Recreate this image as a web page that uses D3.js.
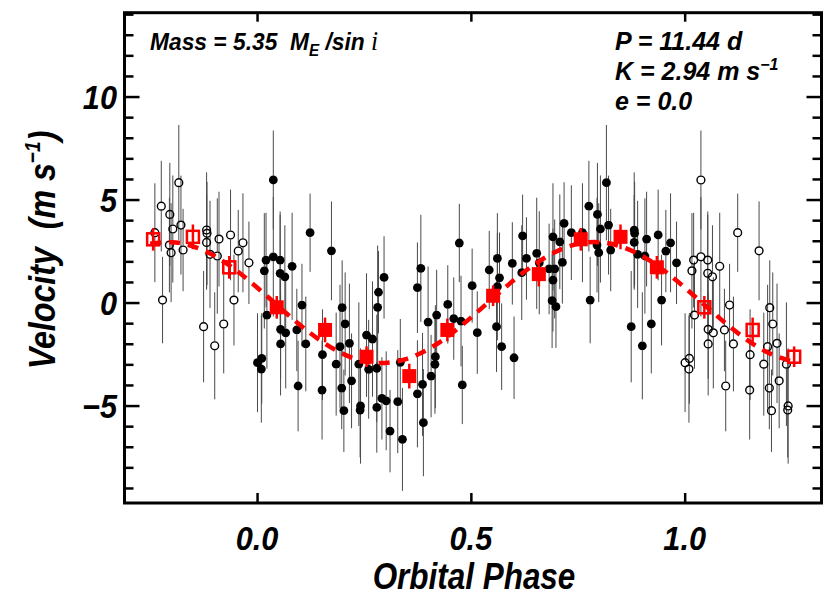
<!DOCTYPE html>
<html>
<head>
<meta charset="utf-8">
<script src="https://cdn.jsdelivr.net/npm/d3@7"></script>
<style>
  body { margin: 0; background: #fff; }
  svg text { font-family: "Liberation Sans", Arial, Helvetica, sans-serif; font-weight: bold; font-style: italic; fill: #000; }
</style>
</head>
<body>
<svg id="chart" width="830" height="600"></svg>
<script>
// radial velocity points, phase 0..1 (filled); copies outside 0..1 drawn open
const phase = [0.001, 0.010, 0.011, 0.017, 0.021, 0.023, 0.038, 0.038, 0.054, 0.054,
  0.055, 0.055, 0.065, 0.067, 0.082, 0.093, 0.096, 0.105, 0.114, 0.124,
  0.152, 0.153, 0.174, 0.185, 0.194, 0.198, 0.199, 0.203, 0.206, 0.216,
  0.221, 0.238, 0.241, 0.242, 0.256, 0.261, 0.270, 0.280, 0.280, 0.282,
  0.284, 0.292, 0.297, 0.302, 0.311, 0.329, 0.335, 0.340, 0.375, 0.375,
  0.383, 0.387, 0.389, 0.400, 0.407, 0.416, 0.417, 0.420, 0.446, 0.460,
  0.473, 0.477, 0.480, 0.503, 0.515, 0.543, 0.560, 0.562, 0.562, 0.567,
  0.572, 0.597, 0.601, 0.619, 0.621, 0.630, 0.654, 0.660, 0.683, 0.690,
  0.692, 0.692, 0.696, 0.699, 0.708, 0.714, 0.718, 0.735, 0.761, 0.776,
  0.779, 0.795, 0.796, 0.799, 0.803, 0.817, 0.822, 0.827, 0.875, 0.882,
  0.882, 0.883, 0.890, 0.901, 0.907, 0.911, 0.922, 0.938, 0.946, 0.956,
  0.967, 0.981];
const velocity = [-2.92, -3.23, -2.71, 1.54, 2.06, -0.61, 5.95, 2.22, 2.06, 1.42,
  -1.30, -2.01, 1.25, -1.47, 1.76, -1.33, -4.05, -0.12, -2.01, 3.39,
  -4.25, -2.53, 2.51, -2.99, -2.14, -4.15, -0.25, -5.25, -1.04, -1.98,
  -3.80, -2.99, -5.22, -5.02, -1.58, -3.24, -1.77, -3.19, -5.09, -0.23,
  0.50, -4.65, 1.22, -4.77, -6.24, -4.81, -2.90, -6.64, -4.43, 0.72,
  1.66, -3.97, -5.83, -0.95, -3.57, -3.00, -2.63, -0.61, -0.09, -0.78,
  2.89, -0.90, -4.00, 0.82, -1.46, 1.58, -1.17, 2.14, 0.77, 1.20,
  -2.14, 1.90, -2.68, 1.45, 3.24, 2.14, 2.39, 1.93, 1.63, 0.09,
  3.19, 1.09, 1.63, -0.20, 2.95, 1.95, 3.84, 3.39, 3.39, 4.68,
  0.12, 2.79, 4.28, 2.42, 3.57, 5.82, 3.76, 2.55, -1.17, 3.52,
  2.92, 3.36, 2.34, -2.10, 2.26, 3.08, -1.04, 3.28, 0.12, 2.50,
  2.90, 1.93];
const velErr = [2.4, 2.6, 2.2, 2.8, 2.3, 2.6, 2.4, 2.9, 2.2, 3.0,
  2.4, 2.5, 2.5, 2.7, 2.6, 2.0, 2.2, 2.0, 2.3, 1.9,
  2.4, 2.2, 2.4, 2.5, 3.0, 2.0, 2.3, 2.0, 2.5, 2.9,
  2.3, 3.0, 2.3, 2.8, 3.0, 2.4, 2.8, 2.6, 2.2, 3.0,
  2.0, 2.0, 2.0, 2.4, 2.0, 2.5, 2.1, 2.5, 2.6, 2.2,
  2.6, 2.5, 2.6, 2.7, 2.0, 2.4, 2.5, 2.2, 1.9, 2.0,
  1.9, 2.2, 1.9, 1.8, 2.0, 1.9, 2.2, 2.2, 2.6, 2.2,
  2.1, 2.0, 2.0, 2.3, 2.0, 2.0, 2.7, 2.5, 2.2, 2.3,
  2.6, 2.5, 2.4, 2.0, 2.3, 2.0, 2.0, 2.3, 2.4, 2.2,
  2.1, 2.3, 2.5, 2.4, 2.6, 2.8, 2.4, 2.0, 2.7, 2.8,
  2.3, 2.5, 2.6, 2.6, 2.8, 2.3, 2.4, 2.2, 2.2, 2.0,
  2.4, 2.0];

// binned means (red squares)
const binPhase = [0.046, 0.159, 0.256, 0.356, 0.445, 0.552, 0.659, 0.757, 0.850, 0.935];
const binVel = [-0.23, -1.33, -2.63, -3.57, -1.33, 0.33, 1.38, 3.07, 3.19, 1.71];
const binErr = [0.55, 0.6, 0.5, 0.6, 0.55, 0.5, 0.6, 0.55, 0.6, 0.55];

// circular orbit fit (red dashed)
const modelPhase = [-0.25, -0.20, -0.15, -0.10, -0.05, 0.00, 0.05, 0.10, 0.15, 0.20,
  0.25, 0.30, 0.35, 0.40, 0.45, 0.50, 0.55, 0.60, 0.65, 0.70,
  0.75, 0.80, 0.85, 0.90, 0.95, 1.00, 1.05, 1.10, 1.15, 1.20, 1.25];
const modelVel = [2.85, 2.93, 2.73, 2.27, 1.58, 0.73, -0.18, -1.08, -1.87, -2.48,
  -2.85, -2.93, -2.73, -2.27, -1.58, -0.73, 0.18, 1.08, 1.87, 2.48,
  2.85, 2.93, 2.73, 2.27, 1.58, 0.73, -0.18, -1.08, -1.87, -2.48, -2.85];

const xTicks = [0, 0.5, 1.0];
const xTickLabels = ['0.0', '0.5', '1.0'];
const yTicks = [-5, 0, 5, 10];
const yTickLabels = ['\u22125', '0', '5', '10'];
const yMinor = d3.range(-9, 15).filter(v => !yTicks.includes(v));

const svg = d3.select('#chart');
const padL = 124.5, padR = 821.5, padT = 12.7, padB = 503;

const x = d3.scaleLinear().domain([-0.31, 1.32]).range([padL, padR]);
const y = d3.scaleLinear().domain([-9.73, 14.07]).range([padB, padT]);

// fold data so phases -0.25..1.25 are shown
const pts = phase.map((p, i) => ({ p, v: velocity[i], e: velErr[i], open: false }));
const copies = [];
pts.forEach(d => {
  [-1, 1].forEach(s => {
    const q = d.p + s;
    if (q >= -0.25 && q <= 1.25) copies.push({ ...d, p: q, open: true });
  });
});
const allPts = pts.concat(copies);

const bins = binPhase.map((p, i) => ({ p, v: binVel[i], e: binErr[i], open: false }));
const binCopies = [];
bins.forEach(d => {
  [-1, 1].forEach(s => {
    const q = d.p + s;
    if (q >= -0.25 && q <= 1.26) binCopies.push({ ...d, p: q, open: true });
  });
});
const allBins = bins.concat(binCopies);

const r = 4.4;

// error bars, drawn from circle edge outward
const eg = svg.append('g').attr('stroke', '#4a4a4a').attr('stroke-width', 1);
allPts.forEach(d => {
  const cx = x(d.p), cy = y(d.v);
  eg.append('line').attr('x1', cx).attr('x2', cx).attr('y1', cy - r).attr('y2', y(d.v + d.e));
  eg.append('line').attr('x1', cx).attr('x2', cx).attr('y1', cy + r).attr('y2', y(d.v - d.e));
});

svg.append('g').selectAll('circle')
  .data(allPts)
  .enter()
  .append('circle')
  .attr('cx', d => x(d.p))
  .attr('cy', d => y(d.v))
  .attr('r', d => d.open ? r - 0.5 : r)
  .attr('fill', d => d.open ? 'none' : '#000')
  .attr('stroke', '#000')
  .attr('stroke-width', d => d.open ? 1.4 : 0);

// model curve
const line = d3.line()
  .x((d, i) => x(modelPhase[i]))
  .y(d => y(d))
  .curve(d3.curveNatural);

svg.append('path')
  .attr('d', line(modelVel))
  .attr('fill', 'none')
  .attr('stroke', '#ff0000')
  .attr('stroke-width', 4.5)
  .attr('stroke-dasharray', '11,8');

// binned points
const bg = svg.append('g');
bg.selectAll('line')
  .data(allBins)
  .enter()
  .append('line')
  .attr('x1', d => x(d.p)).attr('x2', d => x(d.p))
  .attr('y1', d => y(d.v + d.e)).attr('y2', d => y(d.v - d.e))
  .attr('stroke', '#ff0000')
  .attr('stroke-width', 2.5);

const sq = 14;
bg.selectAll('rect')
  .data(allBins)
  .enter()
  .append('rect')
  .attr('x', d => x(d.p) - (d.open ? sq - 2 : sq) / 2)
  .attr('y', d => y(d.v) - (d.open ? sq - 2 : sq) / 2)
  .attr('width', d => d.open ? sq - 2 : sq)
  .attr('height', d => d.open ? sq - 2 : sq)
  .attr('fill', d => d.open ? 'none' : '#ff0000')
  .attr('stroke', '#ff0000')
  .attr('stroke-width', d => d.open ? 2.5 : 0);

// axes: inward ticks on all four sides
function styleTicks(g, w) {
  g.select('.domain').remove();
  g.selectAll('line').attr('stroke', '#000').attr('stroke-width', w);
}

svg.append('g').attr('transform', `translate(0,${padB})`)
  .call(d3.axisBottom(x).tickValues(xTicks).tickSize(-10).tickFormat(''))
  .call(g => styleTicks(g, 2.5));
svg.append('g').attr('transform', `translate(0,${padT})`)
  .call(d3.axisTop(x).tickValues(xTicks).tickSize(-9).tickFormat(''))
  .call(g => styleTicks(g, 2.5));

svg.append('g').attr('transform', `translate(${padL},0)`)
  .call(d3.axisLeft(y).tickValues(yTicks).tickSize(-15).tickFormat(''))
  .call(g => styleTicks(g, 2.5));
svg.append('g').attr('transform', `translate(${padL},0)`)
  .call(d3.axisLeft(y).tickValues(yMinor).tickSize(-9).tickFormat(''))
  .call(g => styleTicks(g, 2.5));
svg.append('g').attr('transform', `translate(${padR},0)`)
  .call(d3.axisRight(y).tickValues(yTicks).tickSize(-15).tickFormat(''))
  .call(g => styleTicks(g, 2.5));
svg.append('g').attr('transform', `translate(${padR},0)`)
  .call(d3.axisRight(y).tickValues(yMinor).tickSize(-9).tickFormat(''))
  .call(g => styleTicks(g, 2.5));

svg.append('rect')
  .attr('x', padL).attr('y', padT)
  .attr('width', padR - padL).attr('height', padB - padT)
  .attr('fill', 'none')
  .attr('stroke', '#000')
  .attr('stroke-width', 3);

// tick labels
svg.append('g').selectAll('text')
  .data(xTicks)
  .enter()
  .append('text')
  .attr('transform', d => `translate(${x(d)},550) scale(0.93,1)`)
  .attr('text-anchor', 'middle')
  .style('font-size', '33px')
  .text((d, i) => xTickLabels[i]);

svg.append('g').selectAll('text')
  .data(yTicks)
  .enter()
  .append('text')
  .attr('transform', d => `translate(117,${y(d) + 12}) scale(0.93,1)`)
  .attr('text-anchor', 'end')
  .style('font-size', '33px')
  .text((d, i) => yTickLabels[i]);

// axis titles
svg.append('text')
  .attr('transform', 'translate(474,589) scale(0.85,1)')
  .attr('text-anchor', 'middle')
  .style('font-size', '37px')
  .text('Orbital Phase');

const yl = svg.append('text')
  .attr('transform', 'translate(55,250) rotate(-90) scale(0.87,1)')
  .attr('text-anchor', 'middle')
  .style('font-size', '37px');
yl.append('tspan').text('Velocity\u00a0\u00a0(m s');
yl.append('tspan').attr('dy', -15).style('font-size', '22px').text('\u22121');
yl.append('tspan').attr('dy', 15).text(')');

// annotations
const mass = svg.append('text')
  .attr('transform', 'translate(150,50) scale(0.95,1)')
  .style('font-size', '24px');
mass.append('tspan').text('Mass = 5.35\u00a0\u00a0M');
mass.append('tspan').attr('dy', 6).style('font-size', '16px').text('E');
mass.append('tspan').attr('dy', -6).text(' /sin ');
mass.append('tspan')
  .style('font-family', '"Liberation Serif", "Times New Roman", serif')
  .style('font-weight', 'normal')
  .style('font-size', '27px')
  .text('i');

svg.append('text').attr('x', 615).attr('y', 50).style('font-size', '25px').text('P = 11.44 d');
const kt = svg.append('text').attr('x', 615).attr('y', 80).style('font-size', '25px');
kt.append('tspan').text('K = 2.94 m s');
kt.append('tspan').attr('dy', -10).style('font-size', '16px').text('\u22121');
svg.append('text').attr('x', 615).attr('y', 110).style('font-size', '25px').text('e = 0.0');
</script>
</body>
</html>
